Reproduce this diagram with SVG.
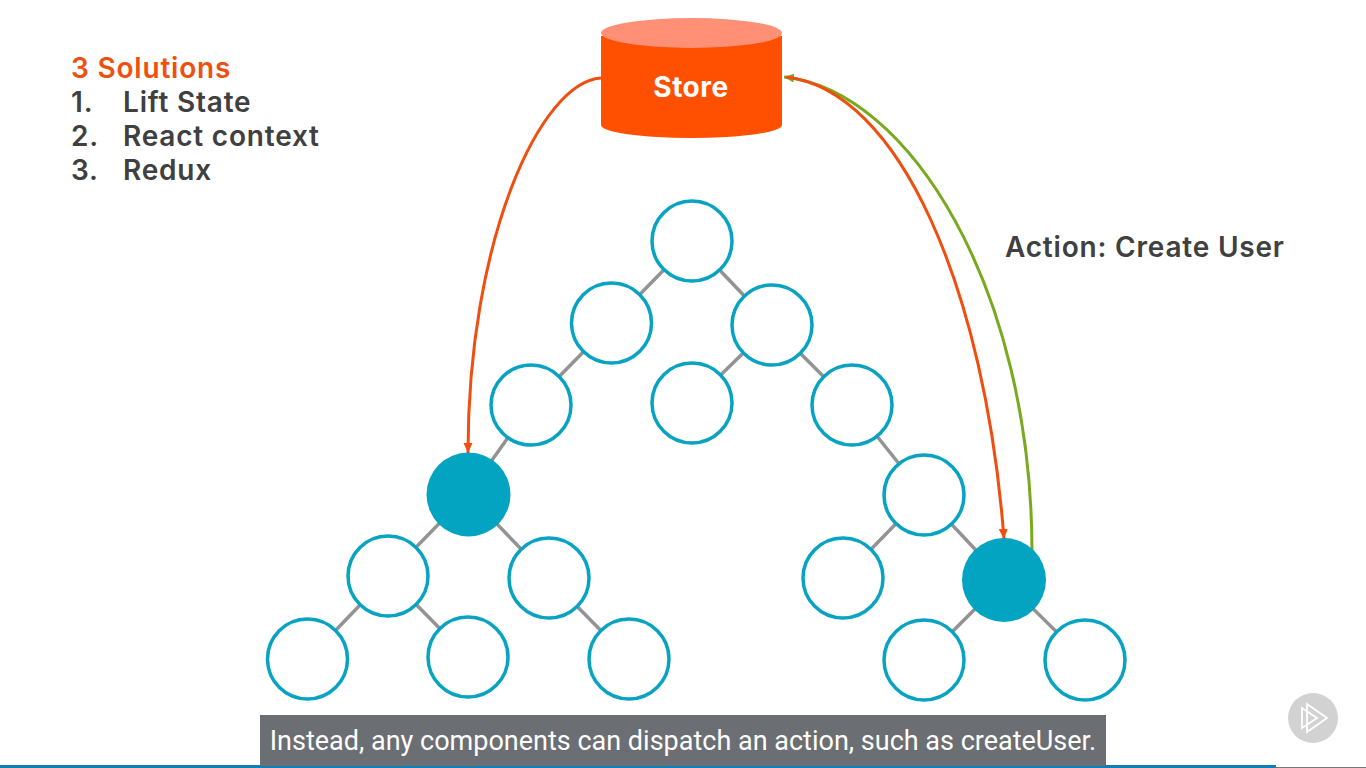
<svg xmlns="http://www.w3.org/2000/svg" width="1366" height="768" viewBox="0 0 1366 768">
<defs>
<marker id="ao" markerWidth="11" markerHeight="10" refX="10" refY="5" orient="auto" markerUnits="userSpaceOnUse"><path d="M0,0.5 L10,5 L0,9.5 Z" fill="#f04e0f"/></marker>
<marker id="ag" markerWidth="11" markerHeight="10" refX="10" refY="5" orient="auto" markerUnits="userSpaceOnUse"><path d="M0,0.5 L10,5 L0,9.5 Z" fill="#78a91f"/></marker>
</defs>
<style>
text{font-family:"Inter","Open Sans","Liberation Sans",sans-serif;font-weight:600;fill:#404040}
.l{font-size:28px;letter-spacing:.8px}
.e{stroke:#939393;stroke-width:3.5;fill:none}
.n{fill:#fff;stroke:#08a3c2;stroke-width:3.5}
.f{fill:#03a3c2;stroke:none}
.c{fill:none;stroke-width:3}
</style>
<rect width="1366" height="768" fill="#fff"/>
<g id="legend">
<text x="71" y="78" class="l" style="fill:#f0500f">3 Solutions</text>
<text x="71" y="112" class="l">1.</text><text x="123" y="112" class="l">Lift State</text>
<text x="71" y="146" class="l">2.</text><text x="123" y="146" class="l">React context</text>
<text x="71" y="180" class="l">3.</text><text x="123" y="180" class="l">Redux</text>
</g>
<text id="action-label" x="1005" y="257" class="l">Action: Create User</text>
<g id="connectors">
<path class="e" d="M692 241L612 323M692 241L772 325M612 323L531 405M772 325L692 403M772 325L852 405M531 405L468 494M852 405L924 495M468 494L388 576M468 494L549 578M388 576L308 659M388 576L468 657M549 578L629 659M924 495L843 578M924 495L1004 580M1004 580L924 660M1004 580L1085 660"/>
<path class="c" stroke="#f04e0f" marker-end="url(#ao)" d="M601 78C540 82 468 240 468 453"/>
<path class="c" stroke="#78a91f" marker-end="url(#ag)" d="M1032 552C1032 290 910 90 784 77"/>
<path class="c" stroke="#f04e0f" marker-end="url(#ao)" d="M786 77C900 90 985 290 1004 539"/>
</g>
<g id="store">
<path d="M601 36V125A90.500 13 0 0 0 782 125V36Z" fill="#ff4f00"/>
<ellipse cx="691.500" cy="33" rx="90.500" ry="15" fill="#ff8f75"/>
<text x="691" y="97" text-anchor="middle" style="font-size:28px;font-weight:700;fill:#fff;letter-spacing:.5px">Store</text>
</g>
<g id="n1"><circle class="n" cx="692" cy="241" r="40"/></g>
<g id="n2"><circle class="n" cx="611.500" cy="323" r="40"/></g>
<g id="n3"><circle class="n" cx="772" cy="325" r="40"/></g>
<g id="n4"><circle class="n" cx="531" cy="405" r="40"/></g>
<g id="n5"><circle class="n" cx="692" cy="403" r="40"/></g>
<g id="n6"><circle class="n" cx="852" cy="405" r="40"/></g>
<g id="n7"><circle class="f" cx="468.500" cy="494.500" r="42"/></g>
<g id="n8"><circle class="n" cx="924" cy="495" r="40"/></g>
<g id="n9"><circle class="n" cx="388" cy="576" r="40"/></g>
<g id="n10"><circle class="n" cx="549" cy="578" r="40"/></g>
<g id="n11"><circle class="n" cx="843" cy="578" r="40"/></g>
<g id="n12"><circle class="f" cx="1004" cy="580" r="42"/></g>
<g id="n13"><circle class="n" cx="307.500" cy="659" r="40"/></g>
<g id="n14"><circle class="n" cx="468" cy="657" r="40"/></g>
<g id="n15"><circle class="n" cx="629" cy="659" r="40"/></g>
<g id="n16"><circle class="n" cx="924" cy="660" r="40"/></g>
<g id="n17"><circle class="n" cx="1085" cy="660" r="40"/></g>
<g id="player">
<rect x="0" y="765" width="1276" height="3" fill="#0f7fb5"/>
<rect x="1276" y="767" width="90" height="1" fill="#777"/>
<circle cx="1313" cy="718" r="25" fill="#d2d2d2"/>
<path d="M1307 704L1327 718L1307 732ZM1302 708L1317 718L1302 728Z" fill="none" stroke="#fff" stroke-width="1.800"/>
</g>
<g id="caption">
<rect x="260" y="715" width="846" height="51" fill="#6b6e72"/>
<text x="683" y="750" text-anchor="middle" style="font-family:Roboto,'Liberation Sans',sans-serif;font-size:27px;font-weight:400;fill:#fff">Instead, any components can dispatch an action, such as createUser.</text>
</g>
</svg>
